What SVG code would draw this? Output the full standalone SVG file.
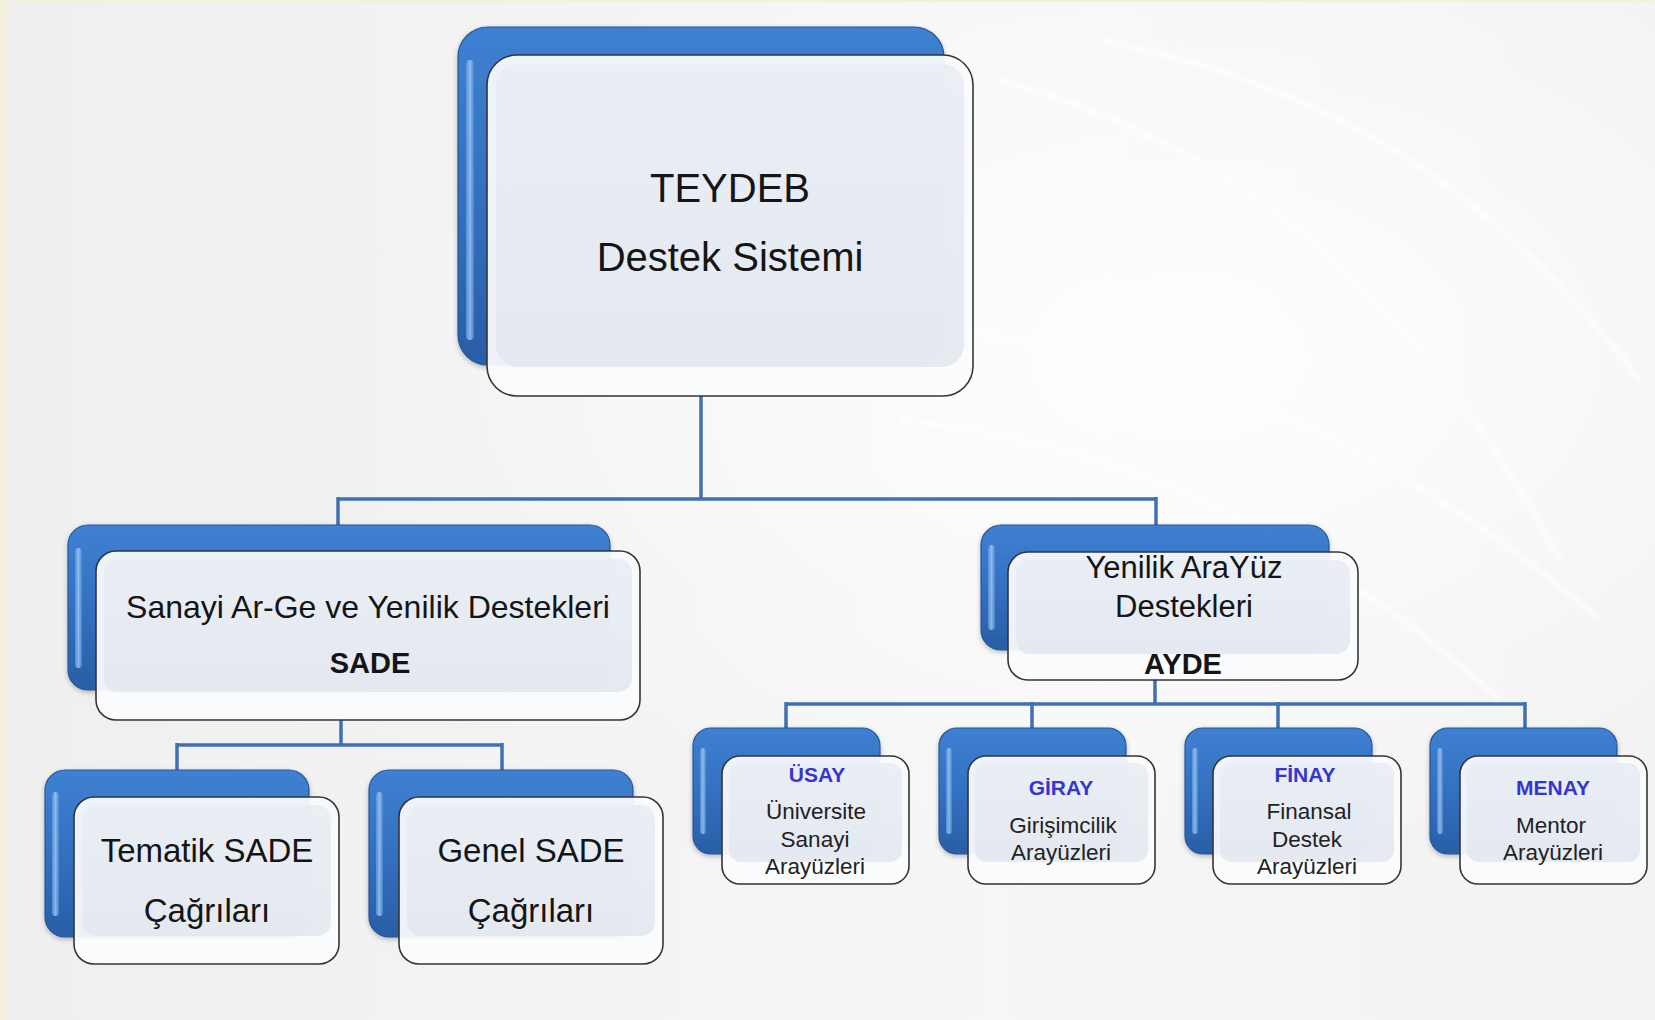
<svg xmlns="http://www.w3.org/2000/svg" width="1655" height="1020" viewBox="0 0 1655 1020">
<defs>
<linearGradient id="bg" x1="0" y1="0" x2="1" y2="0">
<stop offset="0" stop-color="#efefef"/>
<stop offset="0.6" stop-color="#f6f6f6"/>
<stop offset="1" stop-color="#f2f2f2"/>
</linearGradient>
<radialGradient id="glow" cx="0.72" cy="0.35" r="0.5">
<stop offset="0" stop-color="#ffffff" stop-opacity="0.9"/>
<stop offset="1" stop-color="#ffffff" stop-opacity="0"/>
</radialGradient>
<linearGradient id="blue" x1="0" y1="0" x2="0" y2="1">
<stop offset="0" stop-color="#3f80d2"/>
<stop offset="0.5" stop-color="#3370c0"/>
<stop offset="1" stop-color="#2a5ea6"/>
</linearGradient>
<linearGradient id="hl" x1="0" y1="0" x2="1" y2="0">
<stop offset="0" stop-color="#5d98de"/>
<stop offset="0.5" stop-color="#a9d0fa"/>
<stop offset="1" stop-color="#4d88d2"/>
</linearGradient>
<linearGradient id="glass" x1="0" y1="0" x2="0" y2="1">
<stop offset="0" stop-color="#f9fafc"/>
<stop offset="1" stop-color="#fbfcfd"/>
</linearGradient>
<linearGradient id="panel" x1="0" y1="0" x2="0" y2="1">
<stop offset="0" stop-color="#e9edf4"/>
<stop offset="1" stop-color="#e3e8f0"/>
</linearGradient>
<filter id="sh" x="-10%" y="-10%" width="120%" height="130%">
<feDropShadow dx="0" dy="2" stdDeviation="2.5" flood-color="#000" flood-opacity="0.25"/>
</filter>
</defs>
<style>
.back{fill:url(#blue);stroke:#24589c;stroke-width:1.2;filter:url(#sh)}
.hl{fill:url(#hl);opacity:0.75}
.front{fill:url(#glass);fill-opacity:0.94;stroke:#353535;stroke-width:1.6}
.panel{fill:url(#panel);opacity:0.9}
.conn{fill:none;stroke:#4170b0;stroke-width:3.5}
text{font-family:"Liberation Sans",Arial,sans-serif;fill:#151515;text-anchor:middle}
.t1{font-size:40px}
.t2{font-size:32px}
.t2b{font-size:29px;font-weight:bold}
.t3{font-size:33px}
.t4{font-size:22.5px;fill:#222}
.lab{font-size:21px;font-weight:bold;fill:#3535cf}
</style>
<rect x="0" y="0" width="1655" height="1020" fill="url(#bg)"/>
<rect x="0" y="0" width="1655" height="1020" fill="url(#glow)"/>
<g fill="none" stroke="#ffffff" stroke-opacity="0.45" stroke-width="7">
<path d="M1000 80 C1250 150 1420 300 1560 560"/>
<path d="M950 330 C1180 360 1380 430 1600 620"/>
<path d="M900 420 C1100 440 1300 520 1500 700"/>
<path d="M1100 40 C1350 90 1500 200 1640 380"/>
</g>
<rect x="0" y="0" width="8" height="1020" fill="#f3f0dc"/>
<rect x="0" y="0" width="1655" height="2" fill="#f3f0dc"/>

<g id="connectors">
<path class="conn" d="M701 394 V499 M338 499 H1156 M338 497 V526 M1156 497 V526"/>
<path class="conn" d="M341 718 V745 M177 745 H502 M177 743 V771 M502 743 V771"/>
<path class="conn" d="M1155 678 V704 M786 704 H1525 M786 702 V729 M1032 702 V729 M1278 702 V729 M1525 702 V729"/>
</g>

<g id="teydeb">
<rect class="back" x="458" y="27" width="486" height="338" rx="30"/>
<rect class="hl" x="466" y="60" width="8" height="280" rx="4"/>
<rect class="front" x="487" y="55" width="486" height="341" rx="30"/>
<rect class="panel" x="496" y="64" width="468" height="303" rx="22"/>
<text class="t1" x="730" y="202">TEYDEB</text>
<text class="t1" x="730" y="271">Destek Sistemi</text>
</g>

<g id="sade">
<rect class="back" x="68" y="525" width="542" height="165" rx="20"/>
<rect class="hl" x="75" y="548" width="7" height="120" rx="3.5"/>
<rect class="front" x="96" y="551" width="544" height="169" rx="20"/>
<rect class="panel" x="104" y="559" width="528" height="133" rx="14"/>
<text class="t2" x="368" y="618">Sanayi Ar-Ge ve Yenilik Destekleri</text>
<text class="t2b" x="370" y="673">SADE</text>
</g>

<g id="ayde">
<rect class="back" x="981" y="525" width="348" height="125" rx="20"/>
<rect class="hl" x="988" y="545" width="7" height="85" rx="3.5"/>
<rect class="front" x="1008" y="552" width="350" height="128" rx="20"/>
<rect class="panel" x="1016" y="560" width="334" height="94" rx="14"/>
<text style="font-size:31px" x="1184" y="578">Yenilik AraYüz</text>
<text style="font-size:31px" x="1184" y="617">Destekleri</text>
<text class="t2b" x="1183" y="674">AYDE</text>
</g>

<g id="tematik">
<rect class="back" x="45" y="770" width="264" height="167" rx="20"/>
<rect class="hl" x="52" y="792" width="7" height="124" rx="3.5"/>
<rect class="front" x="74" y="797" width="265" height="167" rx="20"/>
<rect class="panel" x="82" y="805" width="249" height="131" rx="14"/>
<text class="t3" x="207" y="862">Tematik SADE</text>
<text class="t3" x="207" y="922">Çağrıları</text>
</g>

<g id="genel">
<rect class="back" x="369" y="770" width="264" height="167" rx="20"/>
<rect class="hl" x="376" y="792" width="7" height="124" rx="3.5"/>
<rect class="front" x="399" y="797" width="264" height="167" rx="20"/>
<rect class="panel" x="407" y="805" width="248" height="131" rx="14"/>
<text class="t3" x="531" y="862">Genel SADE</text>
<text class="t3" x="531" y="922">Çağrıları</text>
</g>

<g id="usay">
<rect class="back" x="693" y="728" width="187" height="126" rx="18"/>
<rect class="hl" x="700" y="748" width="6" height="86" rx="3"/>
<rect class="front" x="722" y="756" width="187" height="128" rx="18"/>
<rect class="panel" x="729" y="763" width="173" height="99" rx="12"/>
<text class="lab" x="817" y="782">ÜSAY</text>
<text class="t4" x="816" y="819">Üniversite</text>
<text class="t4" x="815" y="847">Sanayi</text>
<text class="t4" x="815" y="874">Arayüzleri</text>
</g>

<g id="giray">
<rect class="back" x="939" y="728" width="187" height="126" rx="18"/>
<rect class="hl" x="946" y="748" width="6" height="86" rx="3"/>
<rect class="front" x="968" y="756" width="187" height="128" rx="18"/>
<rect class="panel" x="975" y="763" width="173" height="99" rx="12"/>
<text class="lab" x="1061" y="795">GİRAY</text>
<text class="t4" x="1063" y="833">Girişimcilik</text>
<text class="t4" x="1061" y="860">Arayüzleri</text>
</g>

<g id="finay">
<rect class="back" x="1185" y="728" width="187" height="126" rx="18"/>
<rect class="hl" x="1192" y="748" width="6" height="86" rx="3"/>
<rect class="front" x="1213" y="756" width="188" height="128" rx="18"/>
<rect class="panel" x="1220" y="763" width="174" height="99" rx="12"/>
<text class="lab" x="1305" y="782">FİNAY</text>
<text class="t4" x="1309" y="819">Finansal</text>
<text class="t4" x="1307" y="847">Destek</text>
<text class="t4" x="1307" y="874">Arayüzleri</text>
</g>

<g id="menay">
<rect class="back" x="1430" y="728" width="187" height="126" rx="18"/>
<rect class="hl" x="1437" y="748" width="6" height="86" rx="3"/>
<rect class="front" x="1460" y="756" width="187" height="128" rx="18"/>
<rect class="panel" x="1467" y="763" width="173" height="99" rx="12"/>
<text class="lab" x="1553" y="795">MENAY</text>
<text class="t4" x="1551" y="833">Mentor</text>
<text class="t4" x="1553" y="860">Arayüzleri</text>
</g>
</svg>
